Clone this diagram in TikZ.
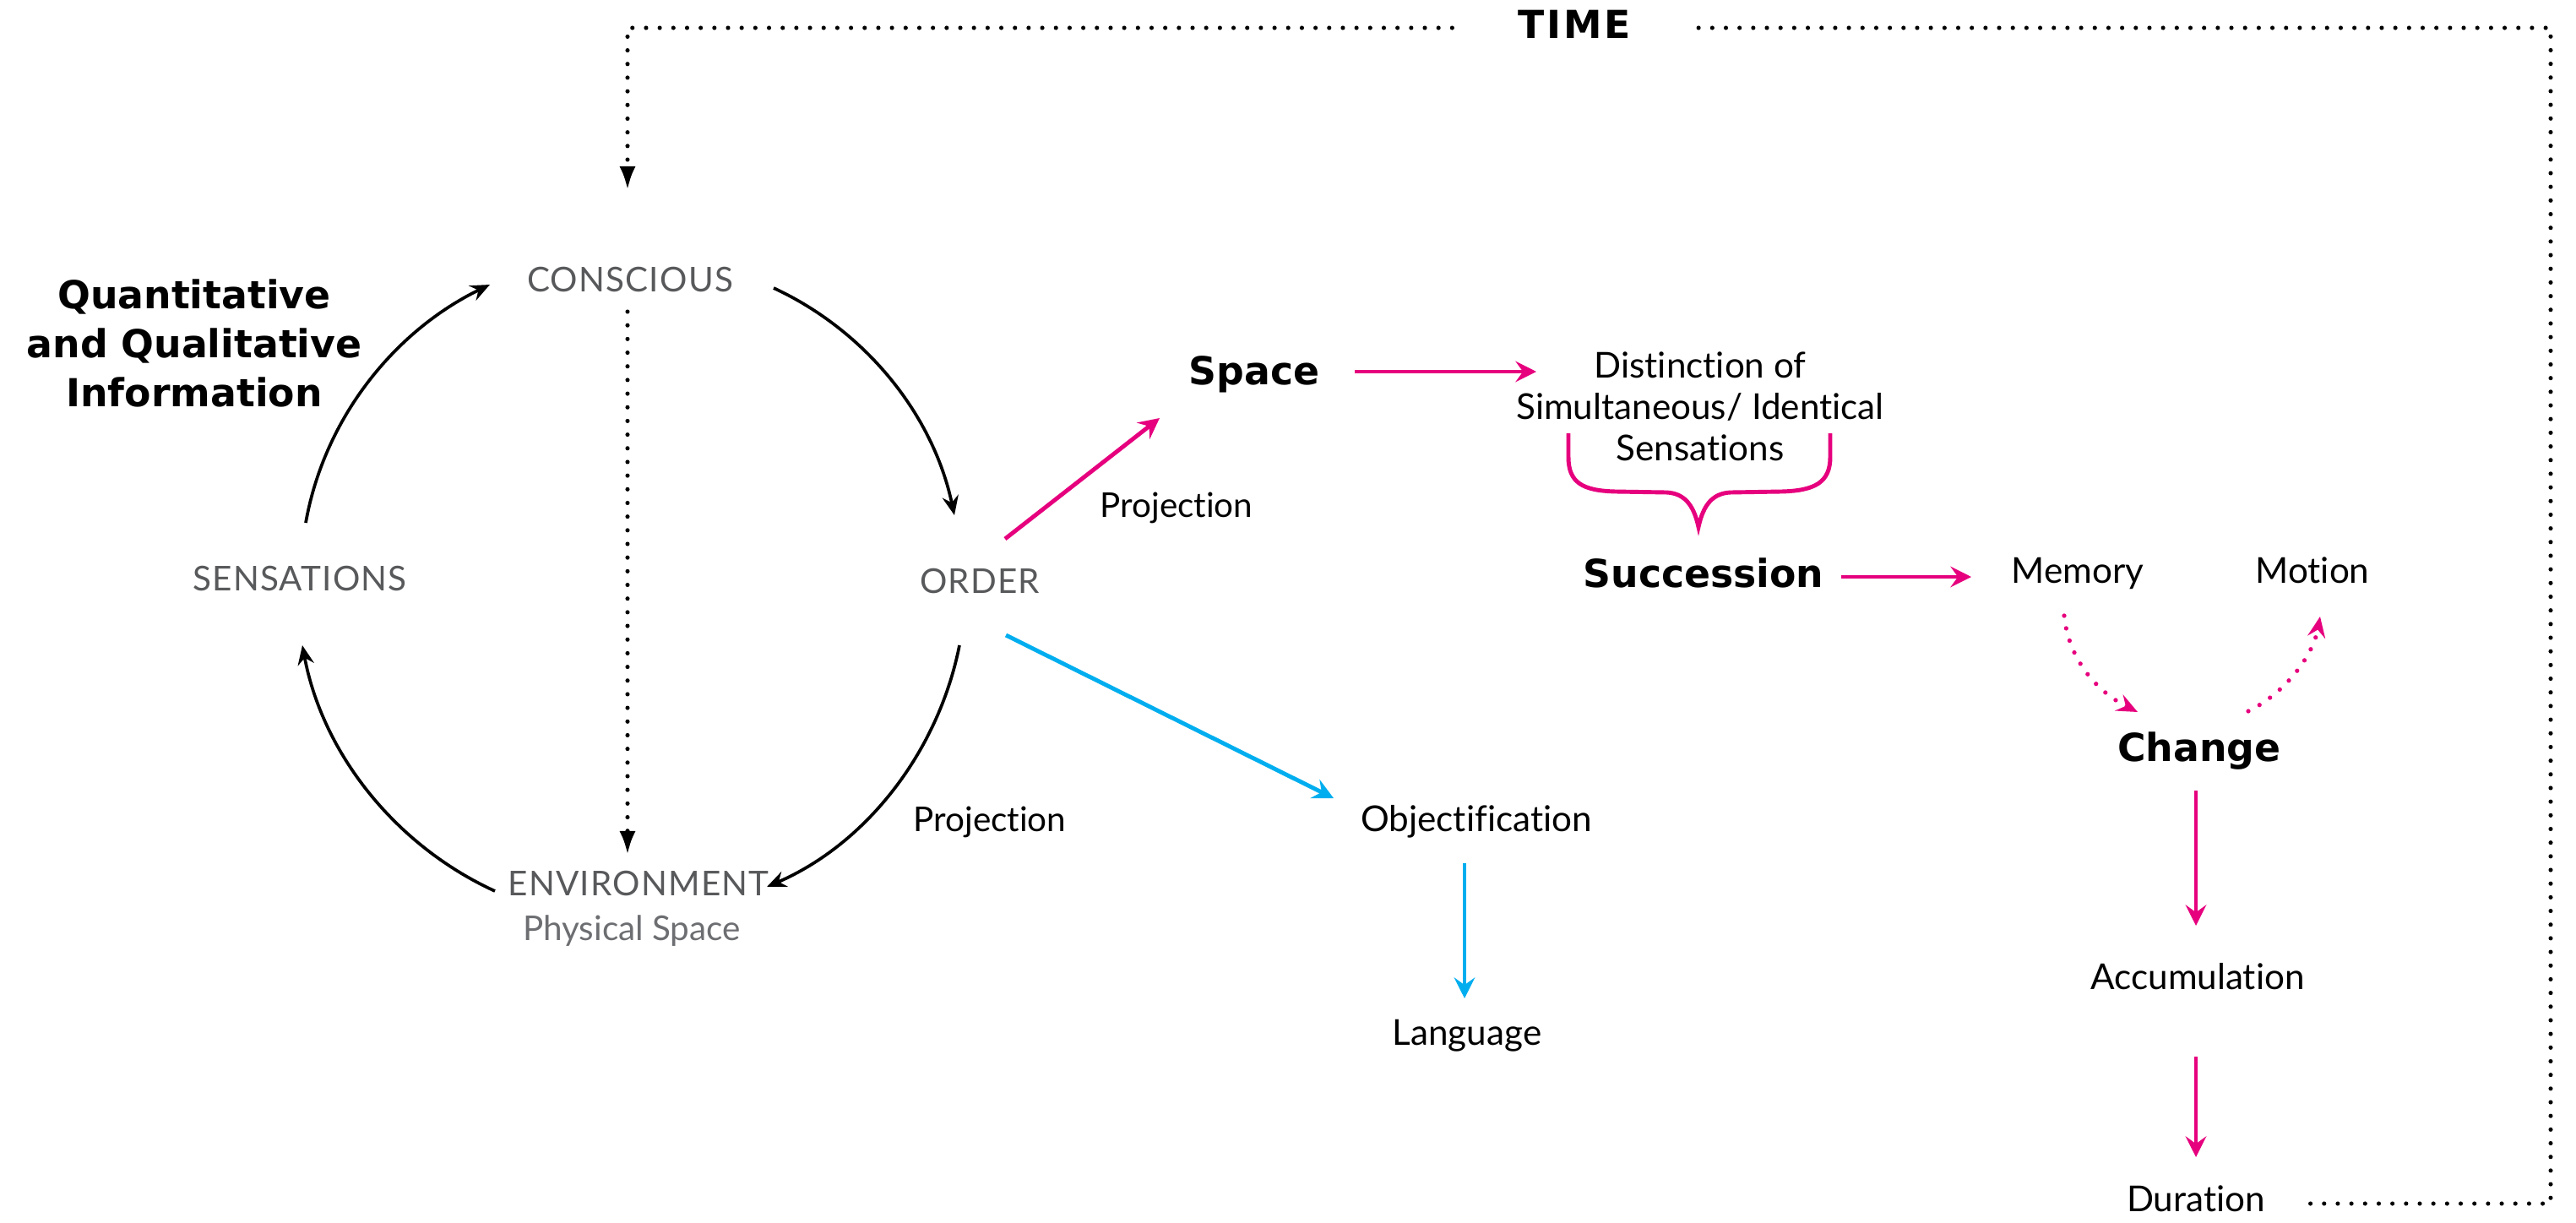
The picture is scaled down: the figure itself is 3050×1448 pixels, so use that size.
\documentclass[tikz,border=0pt]{standalone}
\usepackage{fontspec}
\setmainfont{Lato}[Ligatures=NoCommon]
\newfontfamily\heavy{DejaVu Sans}
\usetikzlibrary{arrows.meta,calc}
\definecolor{mag}{HTML}{E6007E}
\definecolor{sky}{HTML}{00AEEF}
\definecolor{capgray}{HTML}{58595B}
\definecolor{subgray}{HTML}{6D6E71}

\begin{document}
\begin{tikzpicture}[x=0.01cm,y=-0.01cm,
  every node/.style={inner sep=0pt, text height=0.95em, text depth=0.25em},
  loopword/.style={font=\fontsize{11.5}{14}\selectfont\addfontfeatures{LetterSpace=3}, text=capgray},
  subword/.style={font=\fontsize{11.5}{14}\selectfont, text=subgray},
  plain/.style={font=\fontsize{12}{14}\selectfont},
  narrow/.style={font=\fontsize{11.5}{14}\selectfont},
  heavyword/.style={font=\heavy\bfseries\fontsize{13}{16.5}\selectfont},
  blackarr/.style={line width=1.05pt, -{Stealth[length=6.5pt,width=5.5pt,inset=2.2pt]}},
  magarr/.style={draw=mag, line width=1.4pt, -{Stealth[length=7pt,width=7pt,inset=2.5pt]}},
  skyarr/.style={draw=sky, line width=1.4pt, -{Stealth[length=7pt,width=7pt,inset=2.5pt]}},
  dotline/.style={line width=1.45pt, line cap=round, dash pattern=on 0pt off 4.6pt},
  magdots/.style={draw=mag, line width=1.5pt, line cap=round, dash pattern=on 0pt off 4.3pt,
    -{Stealth[length=7pt,width=6pt,inset=2.5pt]}},
]
\useasboundingbox (0,0) rectangle (3050,1448);

% ---------- nodes ----------
\node[heavyword, inner xsep=22pt, font=\heavy\bfseries\fontsize{13}{16}\selectfont\addfontfeatures{LetterSpace=6}] (time) at (1864,33) {TIME};
\node[heavyword, align=center, text height=, text depth=] (info) at (230,406) {Quantitative\\and Qualitative\\Information};

\node[loopword] (cons)  at (746,333)  {CONSCIOUS};
\node[loopword] (sens)  at (355,687)  {SENSATIONS};
\node[loopword] (order) at (1160,690) {ORDER};
\node[loopword] (env)   at (756,1048) {ENVIRONMENT};
\node[subword]  (phys)  at (748,1101) {Physical Space};

\node[narrow] (projlow) at (1172,972) {Projection};
\node[narrow] (projup)  at (1393,600) {Projection};

\node[heavyword] (space) at (1485,443) {Space};
\node[plain, align=center, text height=, text depth=] (dist) at (2013,481) {Distinction of\\Simultaneous/ Identical\\Sensations};
\node[heavyword] (succ) at (2017,683) {Succession};
\node[plain] (mem)    at (2460,678) {Memory};
\node[plain] (motion) at (2738,678) {Motion};
\node[heavyword] (change) at (2604,889) {Change};
\node[plain] (acc) at (2602,1159) {Accumulation};
\node[plain] (dur) at (2600,1422) {Duration};

\node[plain] (obj)  at (1748,972)  {Objectification};
\node[plain] (lang) at (1737,1225) {Language};

% ---------- the cycle ----------
\draw[blackarr] ($(cons)+(170,8)$) .. controls +(110,51) and +(-25,-118) .. ($(order)+(-30,-80)$);
\draw[blackarr] ($(order)+(-24,74)$) .. controls +(-25,126) and +(118,-51) .. ($(env)+(152,2)$);
\draw[blackarr] ($(env)+(-170,7)$) .. controls +(-118,-54) and +(24,128) .. ($(sens)+(3,77)$);
\draw[blackarr] ($(sens)+(7,-68)$) .. controls +(22,-124) and +(-113,55) .. ($(cons)+(-166,4)$);

\draw[dotline, -{Latex[length=8pt,width=5.5pt]}] ($(cons)+(-3,36)$) -- ($(env)+(-13,-36)$);

% ---------- the time loop ----------
\coordinate (tl) at (743,33);
\coordinate (tr) at (3020,33);
\coordinate (br) at (3020,1425);
\draw[dotline] ($(dur.east)+(53,3)$) -- (br) -- (tr) -- (time.east);
\draw[dotline, -{Latex[length=8pt,width=5.5pt]}] (time.west) -- (tl) -- ($(cons)+(-3,-108)$);

% ---------- space and time branch ----------
\draw[magarr] ($(order)+(30,-52)$) -- ($(space)+(-112,52)$);
\draw[magarr] ($(space)+(119,-3)$) -- ($(dist)+(-194,-41)$);
\begin{scope}[shift={(dist)}]
  \draw[mag, line width=1.4pt]
    (-156,32) -- (-156,60) .. controls (-156,90) and (-140,100) .. (-100,101)
    -- (-40,102) .. controls (-20,103) and (-8,115) .. (-2,143)
    .. controls (4,115) and (16,103) .. (36,102)
    -- (96,101) .. controls (136,100) and (154,90) .. (154,60) -- (154,32);
\end{scope}
\draw[magarr] ($(succ)+(163,0)$) -- ($(mem)+(-126,5)$);
\draw[magdots] ($(mem)+(-16,51)$) .. controls +(5,50) and +(-50,-25) .. ($(change)+(-73,-46)$);
\draw[magdots] ($(change)+(58,-47)$) .. controls +(45,-22) and +(-8,45) .. ($(motion)+(9,52)$);
\draw[magarr] ($(change)+(-4,47)$) -- ($(acc)+(-2,-63)$);
\draw[magarr] ($(acc)+(-2,92)$) -- ($(dur)+(0,-52)$);

% ---------- objectification branch ----------
\draw[skyarr] ($(order)+(31,62)$) -- ($(obj)+(-169,-27)$);
\draw[skyarr] ($(obj)+(-14,50)$) -- ($(lang)+(-3,-43)$);
\end{tikzpicture}
\end{document}
